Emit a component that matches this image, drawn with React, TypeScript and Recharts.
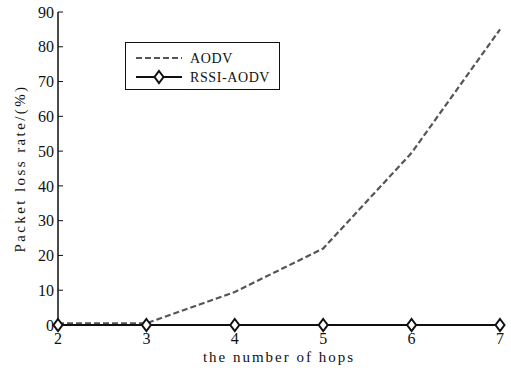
import React from "react";
import { LineChart, Line, XAxis, YAxis } from "recharts";

const hops = [2, 3, 4, 5, 6, 7];
const aodv = [0.5, 0.5, 9.5, 22, 49.5, 85];
const rssiAodv = [0, 0, 0, 0, 0, 0];
const yTicks = [0, 10, 20, 30, 40, 50, 60, 70, 80, 90];
const xTicks = [2, 3, 4, 5, 6, 7];

const data = hops.map((h, i) => ({ hop: h, aodv: aodv[i], rssi: rssiAodv[i] }));

const serif = "'Liberation Serif', 'DejaVu Serif', serif";
const xLabelStyle = { fontFamily: serif, fontSize: 15, letterSpacing: "2px" } as const;
const yLabelStyle = { fontFamily: serif, fontSize: 15, letterSpacing: "2.4px" } as const;
const legendStyle = { fontFamily: serif, fontSize: 14, letterSpacing: "0.6px" } as const;

const Diamond = (props: any) => {
  const { cx, cy } = props;
  if (cx == null || cy == null) return null;
  return (
    <polygon
      points={`${cx},${cy - 6} ${cx + 4.5},${cy} ${cx},${cy + 6} ${cx - 4.5},${cy}`}
      fill="#fff"
      stroke="#111"
      strokeWidth={2}
    />
  );
};

const XTick = (props: any) => (
  <text x={props.x} y={props.y} dy="0.71em" textAnchor="middle" fill="#111" style={{ fontFamily: serif, fontSize: 16 }}>
    {props.payload.value}
  </text>
);

const YTick = (props: any) => (
  <text x={props.x} y={props.y} dy="0.355em" textAnchor="end" fill="#111" style={{ fontFamily: serif, fontSize: 16 }}>
    {props.payload.value}
  </text>
);

const LegendBox = () => (
  <div
    style={{
      position: "absolute",
      left: 125,
      top: 42,
      border: "1px solid #111",
      background: "#fff",
      width: 155,
      height: 48,
      boxSizing: "border-box",
    }}
  >
    <svg width={153} height={46} style={{ display: "block" }}>
      <line x1={10} y1={15} x2={56} y2={15} stroke="#555" strokeWidth={2} strokeDasharray="6 3" />
      <text x={64} y={20} style={legendStyle} fill="#111">AODV</text>
      <line x1={10} y1={34} x2={56} y2={34} stroke="#111" strokeWidth={2} />
      <polygon points="33,28 37.5,34 33,40 28.5,34" fill="#fff" stroke="#111" strokeWidth={2} />
      <text x={64} y={39} style={legendStyle} fill="#111">RSSI-AODV</text>
    </svg>
  </div>
);

export default function App() {
  return (
    <div style={{ position: "absolute", left: 0, top: 0, width: 511, height: 370, background: "#fff" }}>
      <LineChart
        width={511}
        height={370}
        data={data}
        margin={{ top: 12, right: 11, bottom: 0, left: 0 }}
      >
        <XAxis
          xAxisId="b"
          dataKey="hop"
          type="number"
          domain={[2, 7]}
          ticks={xTicks}
          height={45}
          tickSize={-5}
          tickMargin={13}
          axisLine={{ stroke: "#111", strokeWidth: 1.5 }}
          tickLine={{ stroke: "#111" }}
          tick={<XTick />}
          label={{ value: "the number of hops", position: "insideBottom", offset: 8, fill: "#111", style: xLabelStyle }}
        />
        <XAxis
          xAxisId="t"
          dataKey="hop"
          type="number"
          orientation="top"
          domain={[2, 7]}
          ticks={xTicks}
          height={0}
          tickSize={-5}
          tick={false}
          axisLine={{ stroke: "#111", strokeWidth: 1.5 }}
          tickLine={{ stroke: "#111" }}
        />
        <YAxis
          yAxisId="l"
          type="number"
          domain={[0, 90]}
          ticks={yTicks}
          width={58}
          tickSize={-5}
          tickMargin={9}
          axisLine={{ stroke: "#111", strokeWidth: 1.5 }}
          tickLine={{ stroke: "#111" }}
          tick={<YTick />}
          label={{
            value: "Packet loss rate/(%)",
            angle: -90,
            position: "insideLeft",
            offset: 20,
            fill: "#111",
            style: { ...yLabelStyle, textAnchor: "middle" },
          }}
        />
        <YAxis
          yAxisId="r"
          type="number"
          orientation="right"
          domain={[0, 90]}
          ticks={yTicks}
          width={0}
          tickSize={-5}
          tick={false}
          axisLine={{ stroke: "#111", strokeWidth: 1.5 }}
          tickLine={{ stroke: "#111" }}
        />
        <Line
          xAxisId="b"
          yAxisId="l"
          dataKey="aodv"
          name="AODV"
          stroke="#555"
          strokeWidth={2.2}
          strokeDasharray="6 3"
          dot={false}
          isAnimationActive={false}
        />
        <Line
          xAxisId="t"
          yAxisId="r"
          dataKey="rssi"
          name="RSSI-AODV"
          stroke="#111"
          strokeWidth={2}
          dot={<Diamond />}
          isAnimationActive={false}
        />
      </LineChart>
      <LegendBox />
    </div>
  );
}
